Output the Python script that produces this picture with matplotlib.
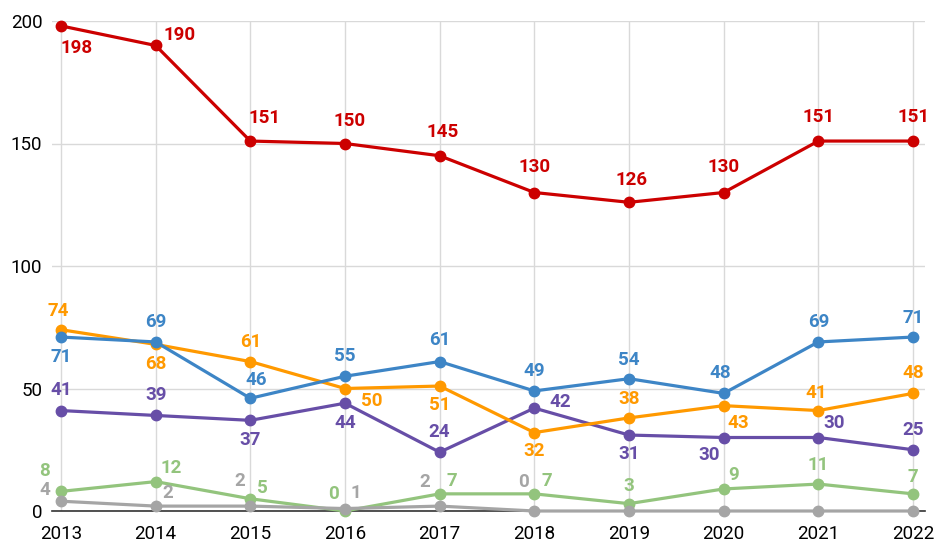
import matplotlib.pyplot as plt
from matplotlib import rcParams

rcParams['font.family'] = ['Roboto', 'DejaVu Sans']

years = [2013, 2014, 2015, 2016, 2017, 2018, 2019, 2020, 2021, 2022]

red = [198, 190, 151, 150, 145, 130, 126, 130, 151, 151]
blue = [71, 69, 46, 55, 61, 49, 54, 48, 69, 71]
orange = [74, 68, 61, 50, 51, 32, 38, 43, 41, 48]
purple = [41, 39, 37, 44, 24, 42, 31, 30, 30, 25]
green = [8, 12, 5, 0, 7, 7, 3, 9, 11, 7]
gray = [4, 2, 2, 1, 2, 0, 0, 0, 0, 0]

yticks = [0, 50, 100, 150, 200]

# label offsets in pixels (dx, dy), None = no label
off_red = [(16, -22), (24, 10), (14, 23), (5, 22), (3, 24), (0, 25), (2, 22), (0, 25), (0, 24), (0, 24)]
off_blue = [(0, -20), (0, 20), (6, 18), (0, 20), (0, 22), (0, 20), (0, 19), (-3, 20), (0, 20), (0, 19)]
off_orange = [(-3, 19), (0, -20), (0, 20), (27, -12), (0, -19), (0, -18), (0, 19), (15, -17), (-2, 18), (0, 20)]
off_purple = [(0, 21), (0, 20), (0, -20), (0, -20), (0, 20), (26, 6), (0, -19), (-15, -17), (16, 14), (0, 20)]
off_green = [(-16, 20), (16, 14), (12, 11), (-11, 17), (12, 13), (12, 13), (0, 18), (10, 14), (0, 19), (0, 17)]
off_gray = [(-16, 11), (12, 13), (-11, 25), (11, 16), (-15, 24), (-11, 29), None, None, None, None]

fig = plt.figure(figsize=(9.36, 5.43), dpi=100)
ax = fig.add_axes([52/936, 1 - 511/543, (925 - 52)/936, (511 - 21)/543])

series = [
    (purple, '#674ea7', off_purple),
    (orange, '#ff9900', off_orange),
    (blue, '#3d85c6', off_blue),
    (green, '#93c47d', off_green),
    (gray, '#a5a5a5', off_gray),
    (red, '#cc0000', off_red),
]

for vals, col, offs in series:
    ax.plot(years, vals, color=col, lw=2.3, marker='o', ms=7.5, zorder=3, clip_on=False)
    for x, y, o in zip(years, vals, offs):
        if o is None:
            continue
        ax.annotate(str(y), (x, y), xytext=o, textcoords='offset pixels',
                    ha='center', va='center', color=col, fontsize=13.5,
                    fontweight='bold', zorder=5)

ax.set_xlim(2013 - 9/94.7, 2022 + 12/94.7)
ax.set_ylim(0, 200)
ax.set_xticks(years)
ax.set_yticks(yticks)
ax.tick_params(length=0, labelsize=13.5)
ax.tick_params(axis='x', pad=10)
ax.tick_params(axis='y', pad=7)
ax.grid(True, color='#d9d9d9', lw=1)
ax.set_axisbelow(True)
for s in ['top', 'right', 'left']:
    ax.spines[s].set_visible(False)
ax.spines['bottom'].set_color('#333333')
ax.spines['bottom'].set_linewidth(1.2)

plt.savefig('out.png', dpi=100)
